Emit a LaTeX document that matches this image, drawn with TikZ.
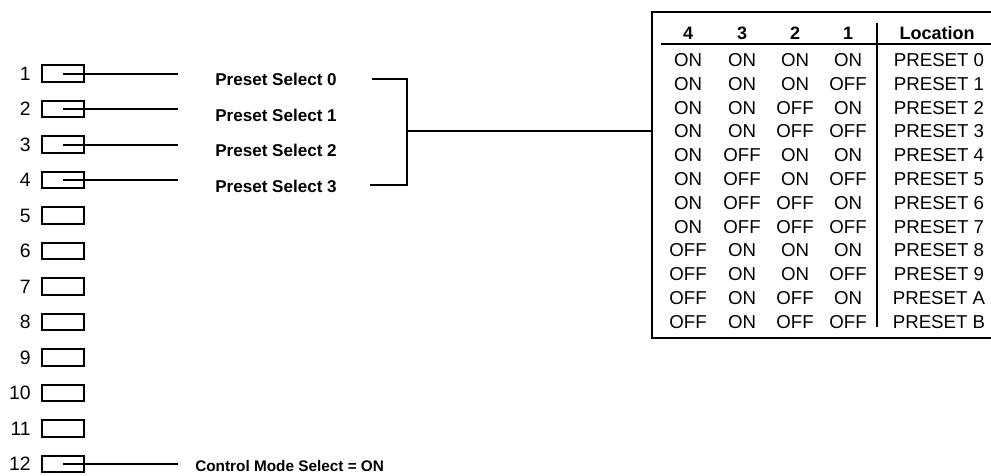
\documentclass[tikz,border=0pt]{standalone}
\usepackage{fontspec}
\setmainfont{Liberation Sans}
\begin{document}
\begin{tikzpicture}[x=0.75pt,y=-0.75pt,
  wire/.style={line width=1.5pt},
  switchbox/.style={draw,line width=1.5pt,minimum width=31.5pt,minimum height=12.5pt,inner sep=0pt},
  swnum/.style={anchor=east,inner sep=0pt,font=\fontsize{14.5}{16}\selectfont},
  sellabel/.style={anchor=west,inner sep=0pt,font=\fontsize{12.8}{15}\selectfont\bfseries},
  cell/.style={inner sep=0pt,font=\fontsize{14}{16}\selectfont},
  headcell/.style={inner sep=0pt,font=\fontsize{13.5}{16}\selectfont\bfseries}]
\useasboundingbox (0,0) rectangle (991,475);

% DIP switch positions 1..12
\foreach \n in {1,...,12}{
  \pgfmathsetmacro\yy{73.5+35.5*(\n-1)}
  \node[switchbox] (sw\n) at (63,\yy) {};
  \node[swnum] (num\n) at (31,\yy) {\n};
}

% lead-out lines of the used switches
\foreach \n in {1,2,3,4,12}{
  \coordinate (end\n) at (178,{73.5+35.5*(\n-1)});
  \draw[wire] (sw\n.center) -- (end\n);
}

% preset select labels
\foreach \n/\t in {1/0,2/1,3/2,4/3}{
  \node[sellabel] (sel\t) at (215,{79.5+35.5*(\n-1)}) {Preset Select \t};
}
\node[sellabel,font=\fontsize{11.5}{14}\selectfont\bfseries] (ctrl) at (195,466) {Control Mode Select = ON};

% table frame
\node[draw,line width=1.5pt,anchor=north west,minimum width=258pt,minimum height=244.5pt,inner sep=0pt] (tbl) at (651,11) {};

% bracket joining the four preset selects to the table
\coordinate (btop) at (372,79);
\coordinate (bbot) at (370,185);
\coordinate (bmid) at (407,131);
\draw[wire] (btop) -| (bmid) |- (bbot);
\draw[wire] (bmid) -- (bmid -| tbl.west);

% header row
\foreach \c/\x in {4/688,3/742,2/795,1/848}{
  \node[headcell] (h\c) at (\x,33) {\c};
}
\node[headcell] (hloc) at (937,33) {Location};
\coordinate (hl0) at (661,44);
\coordinate (hl1) at (995,44);
\draw[wire] (hl0) -- (hl1);
\coordinate (vs0) at (877,23);
\coordinate (vs1) at (877,327);
\draw[wire] (vs0) -- (vs1);

% switch settings and the preset they select
\foreach \a/\b/\c/\d/\loc [count=\k from 0] in {
  ON/ON/ON/ON/0, ON/ON/ON/OFF/1, ON/ON/OFF/ON/2, ON/ON/OFF/OFF/3,
  ON/OFF/ON/ON/4, ON/OFF/ON/OFF/5, ON/OFF/OFF/ON/6, ON/OFF/OFF/OFF/7,
  OFF/ON/ON/ON/8, OFF/ON/ON/OFF/9, OFF/ON/OFF/ON/A, OFF/ON/OFF/OFF/B}{
  \pgfmathsetmacro\yy{60+23.8*\k}
  \node[cell] (r\k c4) at (688,\yy) {\a};
  \node[cell] (r\k c3) at (742,\yy) {\b};
  \node[cell] (r\k c2) at (795,\yy) {\c};
  \node[cell] (r\k c1) at (848,\yy) {\d};
  \node[cell] (r\k loc) at (939,\yy) {PRESET \loc};
}
\end{tikzpicture}
\end{document}
